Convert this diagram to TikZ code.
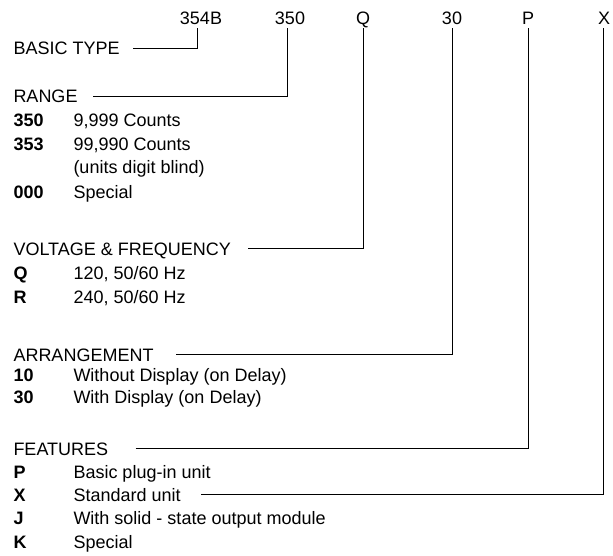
\documentclass[tikz,border=0pt]{standalone}
\usepackage{fontspec}
\setmainfont{Liberation Sans}
\begin{document}
\begin{tikzpicture}[x=1pt, y=-1pt, line width=1pt,
    txt/.style = {inner sep=0pt, text height=13pt, text depth=0pt, font=\fontsize{18}{22}\selectfont},
    code/.style = {txt, anchor=base},
    head/.style = {txt, anchor=base west},
    key/.style = {txt, anchor=base west, font=\fontsize{18}{22}\selectfont\bfseries},
    desc/.style = {txt, anchor=base west}]
    \useasboundingbox (0,0) rectangle (613,556);

    % Codice del modello
    \node[code] (t1) at (201,25) {354B};
    \node[code] (t2) at (290,25) {350};
    \node[code] (t3) at (363,25) {Q};
    \node[code] (t4) at (452,25) {30};
    \node[code] (t5) at (528,25) {P};
    \node[code] (t6) at (604,25) {X};

    \node[head] (h1) at (13,55) {BASIC TYPE};
    \node[head] (h2) at (13,103) {RANGE};
    \node[head] (h3) at (13,255) {VOLTAGE \& FREQUENCY};
    \node[head] (h4) at (13,361) {ARRANGEMENT};
    \node[head] (h5) at (13,455) {FEATURES};

    \node[key] (k1) at (13,127) {350};
    \node[desc] (d1) at (73,127) {9,999 Counts};
    \node[key] (k2) at (13,151) {353};
    \node[desc] (d2) at (73,151) {99,990 Counts};
    \node[desc] (d3) at (73,174) {(units digit blind)};
    \node[key] (k4) at (13,199) {000};
    \node[desc] (d4) at (73,199) {Special};

    \node[key] (k5) at (13,279) {Q};
    \node[desc] (d5) at (73,279) {120, 50/60 Hz};
    \node[key] (k6) at (13,303) {R};
    \node[desc] (d6) at (73,303) {240, 50/60 Hz};

    \node[key] (k7) at (13,381) {10};
    \node[desc] (d7) at (73,381) {Without Display (on Delay)};
    \node[key] (k8) at (13,403) {30};
    \node[desc] (d8) at (73,403) {With Display (on Delay)};

    \node[key] (k9) at (13,478) {P};
    \node[desc] (d9) at (73,478) {Basic plug-in unit};
    \node[key] (k10) at (13,501) {X};
    \node[desc] (d10) at (73,501) {Standard unit};
    \node[key] (k11) at (13,524) {J};
    \node[desc] (d11) at (73,524) {With solid - state output module};
    \node[key] (k12) at (13,548) {K};
    \node[desc] (d12) at (73,548) {Special};

    \draw ([xshift=13pt]h1.east) -| ([xshift=-4pt,yshift=-3pt]t1.south);
    \draw ([xshift=15pt]h2.east) -| ([xshift=-3pt,yshift=-3pt]t2.south);
    \draw ([xshift=17pt]h3.east) -| ([yshift=-3pt]t3.south);
    \draw ([xshift=22pt]h4.east) -| ([yshift=-3pt]t4.south);
    \draw ([xshift=27pt]h5.east) -| ([yshift=-3pt]t5.south);
    \draw ([xshift=20pt]d10.east) -| ([xshift=-1pt,yshift=-3pt]t6.south);

\end{tikzpicture}
\end{document}
